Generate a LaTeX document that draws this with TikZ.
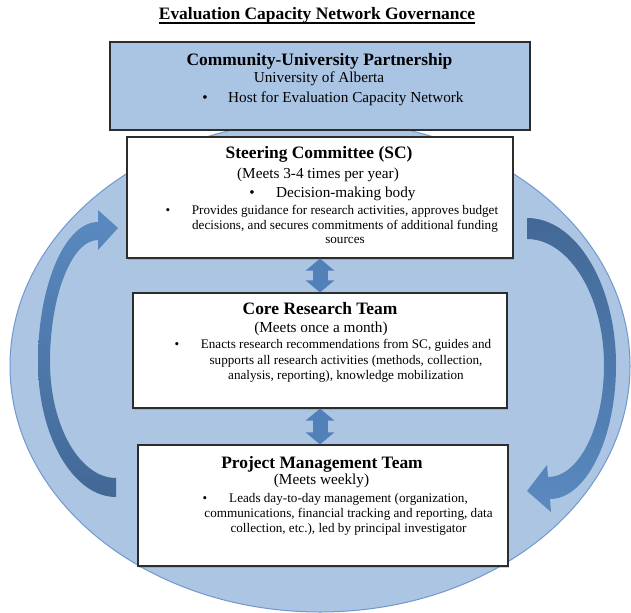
\documentclass[tikz,border=0pt]{standalone}
\usepackage{fontspec}
\setmainfont{Liberation Serif}
\usetikzlibrary{arrows.meta,shadows}

% underlined text with a heavier rule set just below the baseline
\newcommand{\heavyunderline}[1]{\setbox0\hbox{#1}\rlap{\copy0}\rule[-3.6pt]{\wd0}{1.3pt}}

\definecolor{ringblue}{RGB}{172,197,227}
\definecolor{ringedge}{RGB}{112,152,206}
\definecolor{hostblue}{RGB}{170,196,228}
\definecolor{boxline}{RGB}{45,45,45}
\definecolor{linkblue}{RGB}{82,129,186}
\definecolor{loopdark}{RGB}{66,104,150}
\definecolor{looplight}{RGB}{90,138,193}

\begin{document}
\begin{tikzpicture}[x=1bp,y=-1bp,
  box/.style={draw=boxline, line width=1.1bp, fill=white, inner sep=0,
    drop shadow={shadow xshift=1.2bp, shadow yshift=-1.5bp, opacity=0.35}},
  headtxt/.style={font=\fontsize{17.5}{20}\selectfont\bfseries, anchor=base, inner sep=0},
  subtxt/.style={font=\fontsize{15.3}{18}\selectfont, anchor=base, inner sep=0},
  smalltxt/.style={font=\fontsize{13.2}{15}\selectfont, anchor=base, inner sep=0},
  linkarrow/.style={draw=linkblue, line width=15bp,
    {Triangle[length=12bp,width=28bp]}-{Triangle[length=12bp,width=28bp]}},
]
\useasboundingbox (0,0) rectangle (631,613);
\fill[white] (0,0) rectangle (631,613);

\begin{scope}
\clip (0,0) rectangle (631,613);
% background ring
\filldraw[fill=ringblue, draw=ringedge, line width=1bp]
  (320,366) ellipse [x radius=310, y radius=246];

% left feedback loop: rises from the bottom team to the committee
\shade[top color=looplight, bottom color=loopdark]
  (116,497) .. controls (73,497) and (38,436) .. (38,362)
  .. controls (38,285) and (65,222) .. (98,222)
  -- (98,210) -- (118,228) -- (98,250) -- (98,240)
  .. controls (72,240) and (50,295) .. (50,362)
  .. controls (50,426) and (80,478) .. (116,478) -- cycle;

% right feedback loop: descends from the committee to the bottom team
\shade[top color=loopdark, bottom color=looplight]
  (527,218) .. controls (576,218) and (616,284) .. (616,365)
  .. controls (616,439) and (586,499) .. (550,499)
  -- (551,512) -- (527,491) -- (547,465) -- (548,477)
  .. controls (579,477) and (604,427) .. (604,365)
  .. controls (604,296) and (569,239) .. (527,239) -- cycle;
\end{scope}

% boxes
\node[box, fill=hostblue, minimum width=420bp, minimum height=88bp] (host) at (320,86) {};
\node[box, minimum width=386bp, minimum height=121bp] (sc) at (320,197.5) {};
\node[box, minimum width=374bp, minimum height=115bp] (core) at (320,350.5) {};
\node[box, minimum width=370bp, minimum height=121bp] (pm) at (323,505.5) {};

% two-way links between levels
\draw[linkarrow] (sc.south) -- (core.north);
\draw[linkarrow] (core.south) -- (core.south |- pm.north);

% title
\node[headtxt] (title) at (317,20) {\heavyunderline{Evaluation Capacity Network Governance}};

% host
\node[headtxt] (hostname) at (319.5,66) {Community-University Partnership};
\node[subtxt] (hostuni) at (319,83) {University of Alberta};
\node[subtxt] (hostdot) at (205,103) {•};
\node[subtxt, anchor=base west] (hostrole) at (228,103) {Host for Evaluation Capacity Network};

% steering committee
\node[headtxt] (scname) at (319,159) {Steering Committee (SC)};
\node[subtxt] (scmeet) at (318,178.5) {(Meets 3-4 times per year)};
\node[subtxt] (scdot1) at (252,197.5) {•};
\node[subtxt, anchor=base west] (scrole) at (276,197.5) {Decision-making body};
\node[smalltxt] (scdot2) at (168,214.5) {•};
\node[smalltxt] (scline1) at (345,214.5) {Provides guidance for research activities, approves budget};
\node[smalltxt] (scline2) at (345,229.5) {decisions, and secures commitments of additional funding};
\node[smalltxt] (scline3) at (345,243.5) {sources};

% core research team
\node[headtxt] (corename) at (320,314) {Core Research Team};
\node[subtxt] (coremeet) at (321,332.5) {(Meets once a month)};
\node[smalltxt] (coredot) at (177,348) {•};
\node[smalltxt] (coreline1) at (346,348) {Enacts research recommendations from SC, guides and};
\node[smalltxt] (coreline2) at (346,364) {supports all research activities (methods, collection,};
\node[smalltxt] (coreline3) at (346,379) {analysis, reporting), knowledge mobilization};

% project management team
\node[headtxt] (pmname) at (322,468) {Project Management Team};
\node[subtxt] (pmmeet) at (321.5,484.5) {(Meets weekly)};
\node[smalltxt] (pmdot) at (205,502.5) {•};
\node[smalltxt] (pmline1) at (348.5,502.5) {Leads day-to-day management (organization,};
\node[smalltxt] (pmline2) at (348.5,517.5) {communications, financial tracking and reporting, data};
\node[smalltxt] (pmline3) at (348.5,532.5) {collection, etc.), led by principal investigator};
\end{tikzpicture}
\end{document}
